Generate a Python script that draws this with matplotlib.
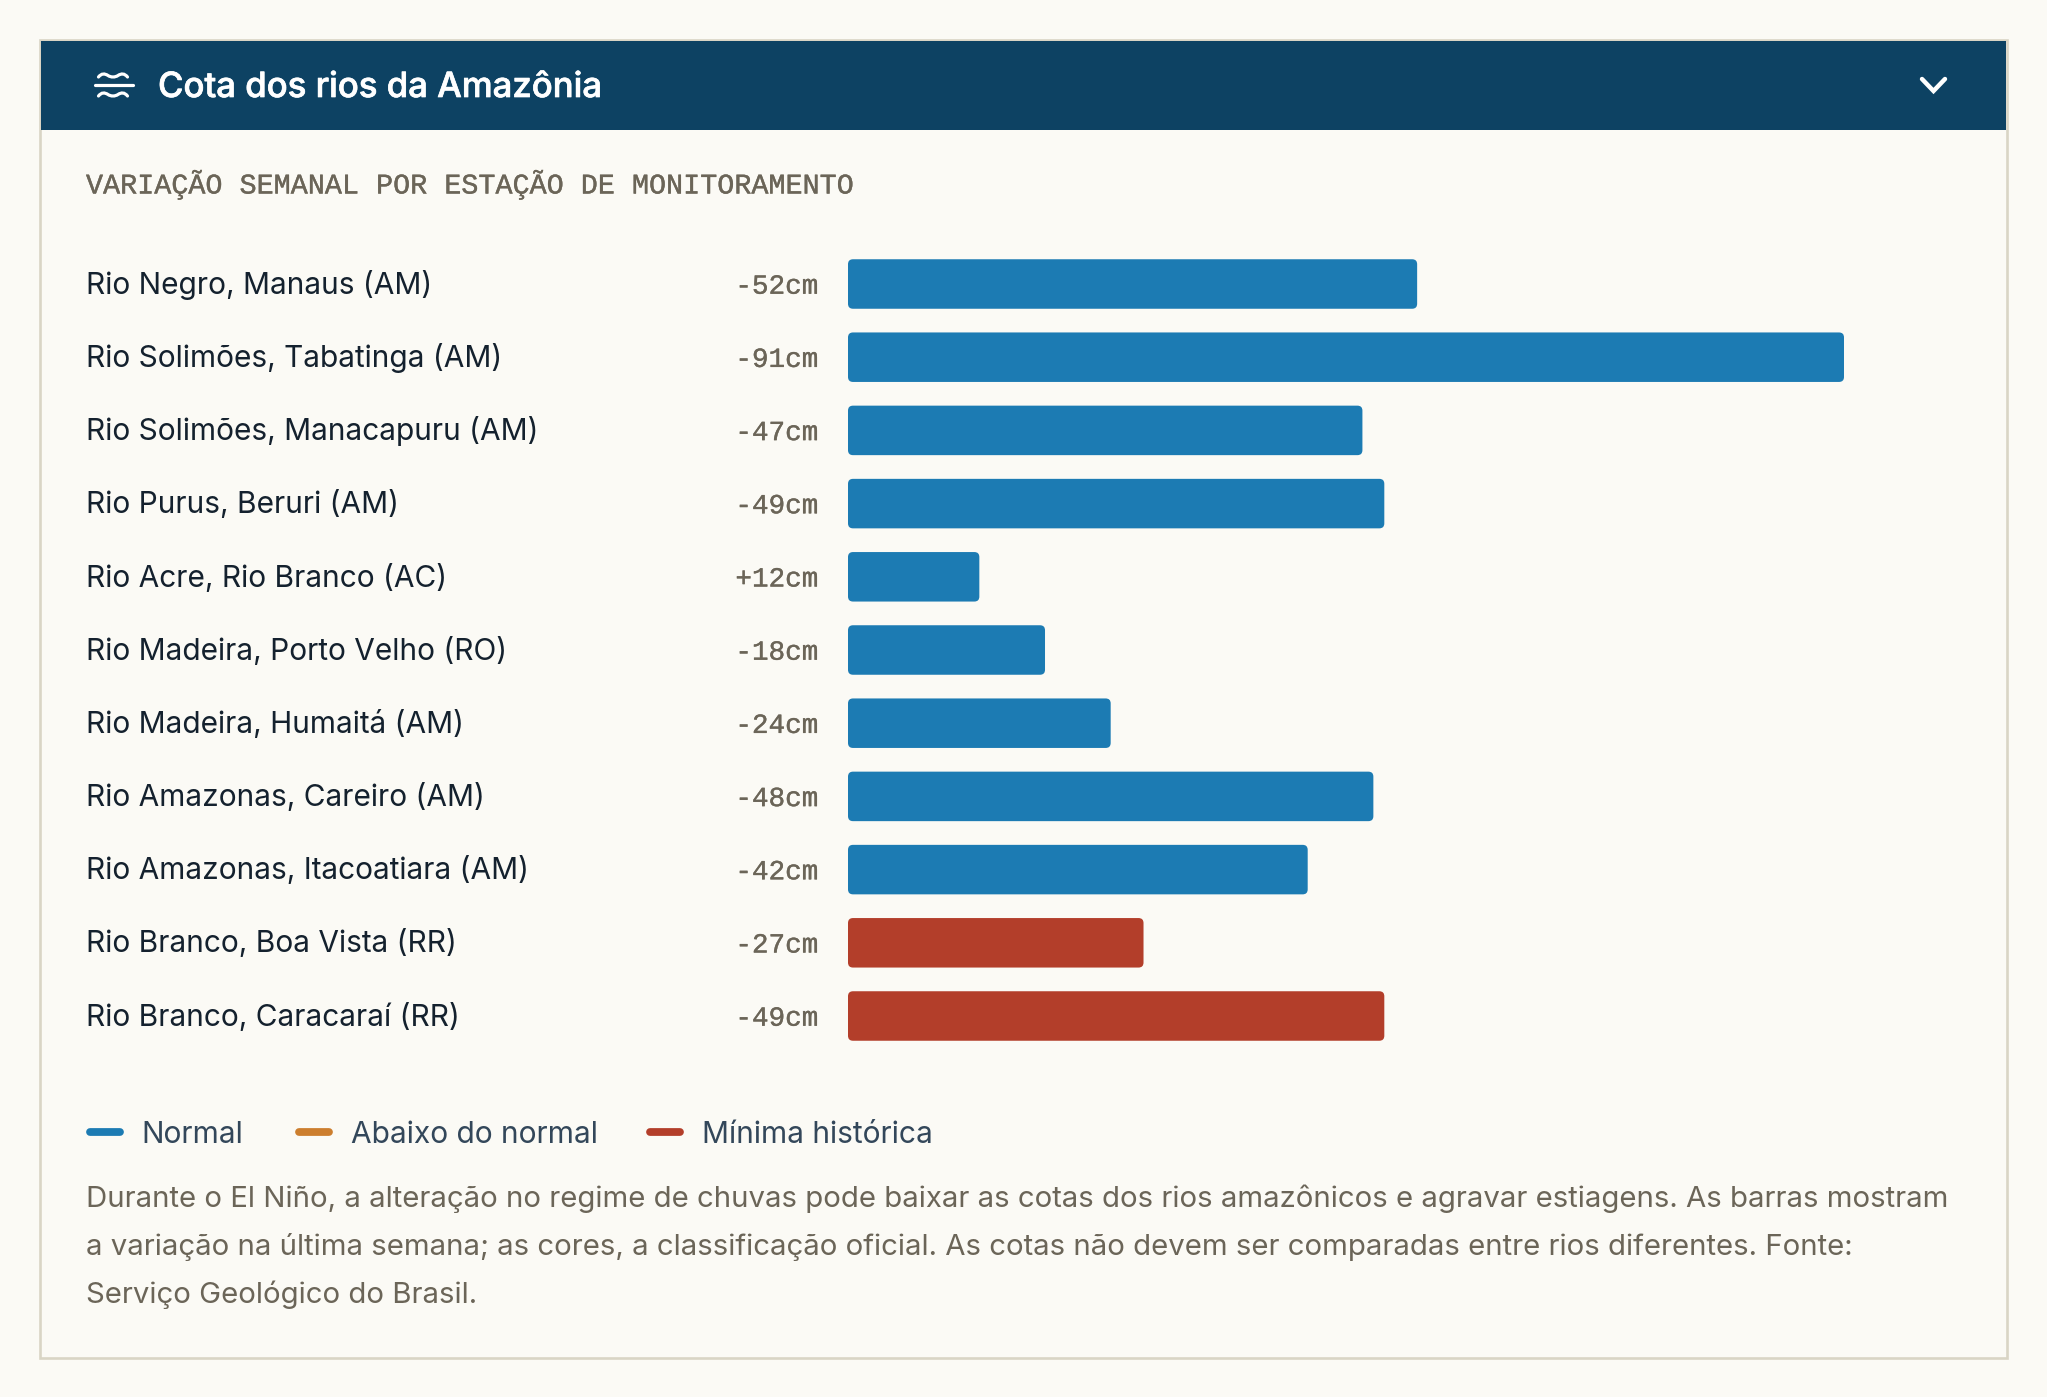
import matplotlib
matplotlib.use('Agg')
import matplotlib.pyplot as plt
import matplotlib.patheffects as pe
from matplotlib.patches import FancyBboxPatch, PathPatch, Rectangle
from matplotlib.path import Path

W, H = 2047, 1397

stations = ['Rio Negro, Manaus (AM)', 'Rio Solimões, Tabatinga (AM)', 'Rio Solimões, Manacapuru (AM)',
            'Rio Purus, Beruri (AM)', 'Rio Acre, Rio Branco (AC)', 'Rio Madeira, Porto Velho (RO)',
            'Rio Madeira, Humaitá (AM)', 'Rio Amazonas, Careiro (AM)', 'Rio Amazonas, Itacoatiara (AM)',
            'Rio Branco, Boa Vista (RR)', 'Rio Branco, Caracaraí (RR)']
variation = [-52, -91, -47, -49, 12, -18, -24, -48, -42, -27, -49]
status = ['Normal'] * 9 + ['Mínima histórica'] * 2
legend_labels = ['Normal', 'Abaixo do normal', 'Mínima histórica']
title = 'Cota dos rios da Amazônia'
subtitle = 'VARIAÇÃO SEMANAL POR ESTAÇÃO DE MONITORAMENTO'
note_lines = ['Durante o El Niño, a alteração no regime de chuvas pode baixar as cotas dos rios amazônicos e agravar estiagens. As barras mostram',
              'a variação na última semana; as cores, a classificação oficial. As cotas não devem ser comparadas entre rios diferentes. Fonte:',
              'Serviço Geológico do Brasil.']

BG = '#FBFAF5'
NAVY = '#0D4263'
BORDER = '#D9D5C5'
INK = '#14212E'
MUTED = '#6B6558'
SLATE = '#33475A'
colors = {'Normal': '#1C7BB3', 'Abaixo do normal': '#CC7E2E', 'Mínima histórica': '#B33E2A'}

SANS = 'Inter'
MONO = 'Liberation Mono'

def thicken(color, width=0.25):
    # the installed faces are lighter than the original ones
    return [pe.withStroke(linewidth=width, foreground=color)]

fig = plt.figure(figsize=(W / 100, H / 100), dpi=100, facecolor=BG)

# page layer in pixel coordinates for the card and header
bg = fig.add_axes([0, 0, 1, 1])
bg.set_xlim(0, W)
bg.set_ylim(H, 0)
bg.axis('off')

bg.add_patch(Rectangle((40, 39.5), 1967, 1318.5, fc=BG, ec=BORDER, lw=1.9))
bg.add_patch(Rectangle((41, 41), 1965, 88.5, fc=NAVY, ec='none'))

# water icon
bg.plot([95, 133], [85, 85], color='white', lw=2.3, solid_capstyle='round')
for y0 in (75.5, 94.5):
    verts = [(98.5, y0 + 1.5), (101.5, y0 - 2.2), (104.5, y0 - 2.2), (108, y0),
             (111, y0 + 2), (115, y0 + 2), (118, y0),
             (121.5, y0 - 2.2), (124.5, y0 - 2.2), (127.5, y0 + 1.5)]
    codes = [Path.MOVETO] + [Path.CURVE4] * 9
    bg.add_patch(PathPatch(Path(verts, codes), fc='none', ec='white', lw=2.3, capstyle='round'))

# chevron
bg.plot([1922, 1933.5, 1945], [79, 91, 79], color='white', lw=3.2, solid_capstyle='round', solid_joinstyle='miter')

bg.text(158, 97, title, color='white', fontsize=25, family=SANS, weight='medium', va='baseline',
        path_effects=thicken('white', 0.5))
bg.text(86, 193.5, subtitle, color=MUTED, fontsize=20.47, family=MONO, va='baseline',
        path_effects=thicken(MUTED))

# bars, x axis in cm
row_top = 284 - 36.6
row_bottom = 1016 + 36.6
bar_left = 848
bar_right = 1844
ax = fig.add_axes([bar_left / W, 1 - row_bottom / H, (bar_right - bar_left) / W, (row_bottom - row_top) / H])
ax.set_xlim(0, 91)
ax.set_ylim(len(stations) - 0.5, -0.5)
ax.axis('off')
ax.patch.set_alpha(0)

px_x = 91 / (bar_right - bar_left)
px_y = len(stations) / (row_bottom - row_top)
bar_h = 49.5 * px_y
radius = 5 * px_x

trans = ax.get_yaxis_transform()
for i, (name, val, st) in enumerate(zip(stations, variation, status)):
    ax.add_patch(FancyBboxPatch((0, i - bar_h / 2), abs(val), bar_h,
                                boxstyle=f'round,pad=0,rounding_size={radius}',
                                mutation_aspect=px_y / px_x, fc=colors[st], ec='none'))
    ax.text((86 - bar_left) / (bar_right - bar_left), i + 9.7 * px_y, name, transform=trans,
            color=INK, fontsize=21.5, family=SANS, va='baseline')
    ax.text((818.5 - bar_left) / (bar_right - bar_left), i + 9.7 * px_y, f'{val:+d}cm', transform=trans,
            color=MUTED, fontsize=19.9, family=MONO, ha='right', va='baseline',
            path_effects=thicken(MUTED))

# legend
swatch_x = [86, 295, 646]
text_x = [141, 351, 701.5]
for label, sx, tx in zip(legend_labels, swatch_x, text_x):
    bg.plot([sx + 4, sx + 34], [1132, 1132], color=colors[label], lw=5.6, solid_capstyle='round')
    bg.text(tx, 1143, label, color=SLATE, fontsize=21.55, family=SANS, va='baseline')

for line, y in zip(note_lines, [1207, 1255, 1303]):
    bg.text(86, y, line, color=MUTED, fontsize=21.14, family=SANS, va='baseline')

fig.savefig('out.png', dpi=100, facecolor=BG)
